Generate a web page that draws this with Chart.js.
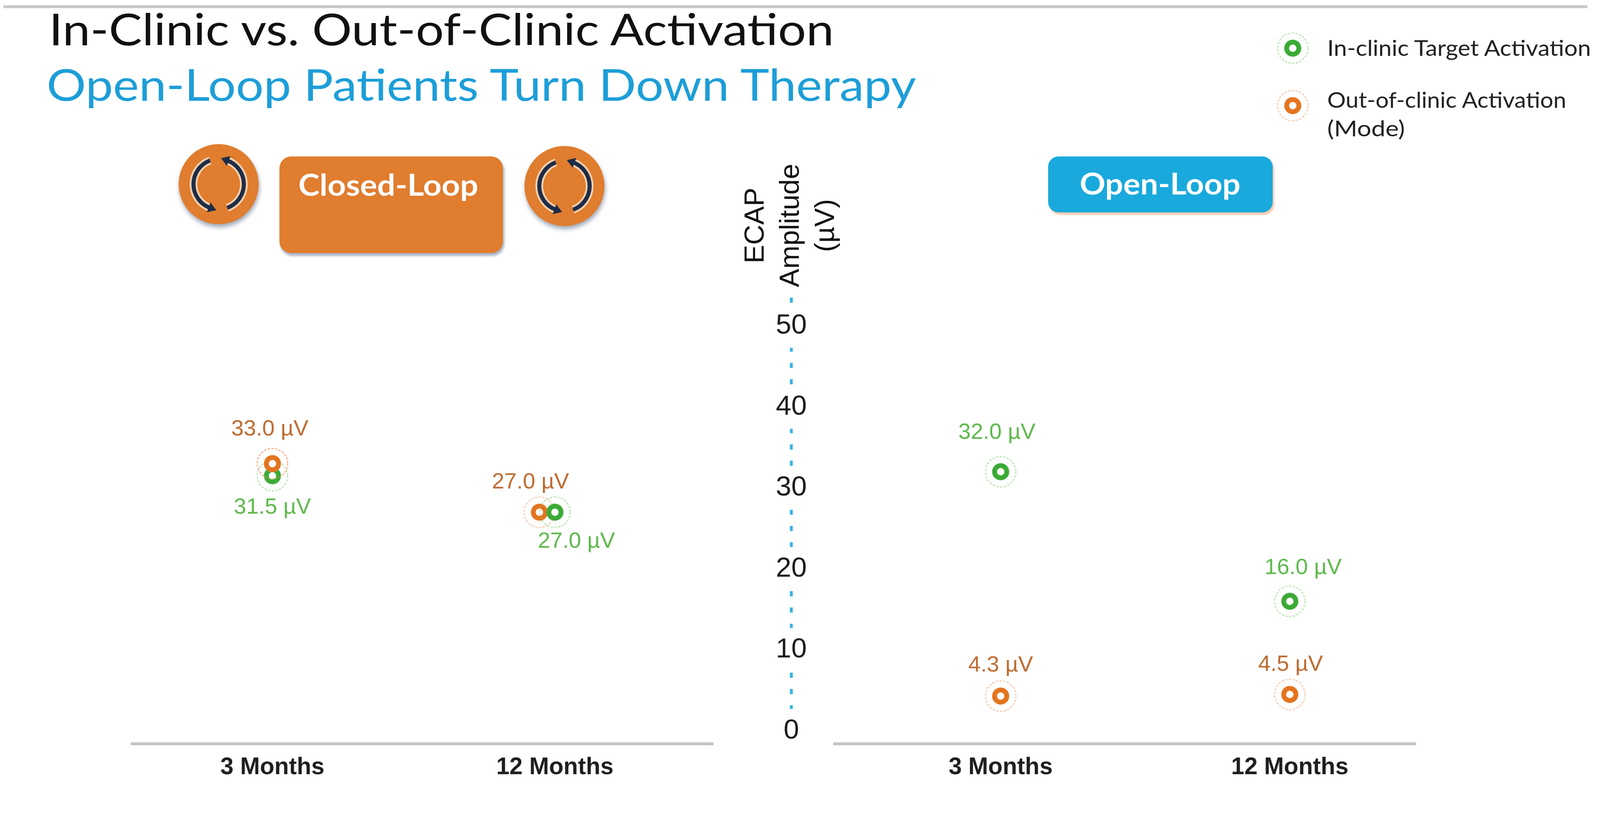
<!DOCTYPE html>
<html>
<head>
<meta charset="utf-8">
<script src="https://cdn.jsdelivr.net/npm/chart.js@4.4.1/dist/chart.umd.min.js"></script>
<style>
  html, body { margin: 0; padding: 0; background: #ffffff; overflow: hidden; }
  body { font-family: "Liberation Sans", Arial, sans-serif; }
  #stage { position: absolute; left: 0; top: 0; width: 4317px; height: 2107px; transform-origin: 0 0; overflow: hidden; background: #fff; }
  .abs { position: absolute; }
  .fit { white-space: nowrap; display: inline-block; transform-origin: 0 50%; }
  .lato { font-family: "Lato", "Noto Sans", sans-serif; font-weight: 400; }
  .latob { font-family: "Lato", "Noto Sans", sans-serif; font-weight: 700; }
  .icon { filter: drop-shadow(2px 8px 6px rgba(40, 60, 100, 0.45)); }
</style>
</head>
<body>
<div id="stage">
<div class="abs" style="left:9px;top:14px;width:4274px;height:8px;background:#c9c9c9"></div>

<div class="abs fit lato" data-w="2118" style="left:132px;top:18px;font-size:118px;line-height:118px;color:#111">In-Clinic vs. Out-of-Clinic Activation</div>
<div class="abs fit lato" data-w="2346" style="left:126px;top:168px;font-size:118px;line-height:118px;color:#1d9ed8">Open-Loop Patients Turn Down Therapy</div>

<!-- Closed-loop badge -->
<div class="abs icon" id="icon1" style="left:480px;top:387px;width:220px;height:220px"></div>
<div class="abs" style="left:754px;top:422px;width:603px;height:261px;border-radius:32px;background:#e07d2e;box-shadow:3px 7px 7px rgba(60,85,130,0.45)"></div>
<div class="abs fit latob" data-w="485" style="left:805px;top:456px;font-size:81px;line-height:81px;color:#fff">Closed-Loop</div>
<div class="abs icon" id="icon2" style="left:1413px;top:392px;width:220px;height:220px"></div>

<!-- Open-loop badge -->
<div class="abs" style="left:2828px;top:422px;width:606px;height:151px;border-radius:28px;background:#19a9dc;box-shadow:4px 6px 5px rgba(235,150,100,0.5)"></div>
<div class="abs fit latob" data-w="434" style="left:2913px;top:453px;font-size:81px;line-height:81px;color:#fff">Open-Loop</div>

<!-- Legend -->
<canvas class="abs" id="lg0" width="100" height="100" style="left:3438px;top:80px;width:100px;height:100px"></canvas>
<canvas class="abs" id="lg1" width="100" height="100" style="left:3438px;top:235px;width:100px;height:100px"></canvas>
<div class="abs fit lato" id="lgt0" data-w="712" style="left:3581px;top:99px;font-size:59px;line-height:59px;color:#222"></div>
<div class="abs fit lato" id="lgt1" data-w="645" style="left:3581px;top:239px;font-size:59px;line-height:59px;color:#222"></div>
<div class="abs fit lato" id="lgt2" data-w="210" style="left:3581px;top:316px;font-size:59px;line-height:59px;color:#222"></div>

<!-- Y axis title -->
<div class="abs" id="ytitle" style="left:1930px;top:466px;width:400px;height:285px;font-family:'Liberation Sans',Arial,sans-serif;font-size:75px;line-height:95px;text-align:center;color:#111;transform:rotate(-90deg)"></div>

<canvas class="abs" id="closedChart" width="2000" height="1407" style="left:0px;top:700px;width:2000px;height:1407px"></canvas>
<canvas class="abs" id="openChart" width="2317" height="1407" style="left:2000px;top:700px;width:2317px;height:1407px"></canvas>
</div>

<script>
// ---------------- DATA ----------------
const CATEGORIES = ['3 Months', '12 Months'];
const SERIES_NAMES = ['In-clinic Target Activation', 'Out-of-clinic Activation (Mode)'];
const CLOSED_IN_CLINIC = [31.5, 27.0];
const CLOSED_OUT_OF_CLINIC = [33.0, 27.0];
const OPEN_IN_CLINIC = [32.0, 16.0];
const OPEN_OUT_OF_CLINIC = [4.3, 4.5];
const Y_TICKS = [0, 10, 20, 30, 40, 50];
const Y_TITLE_LINES = ['ECAP', 'Amplitude', '(µV)'];
const UNIT = 'µV';

// ---------------- STYLE ----------------
const GREEN = '#3aaa35', GREEN_HALO = 'rgba(120,200,105,0.55)', GREEN_TXT = '#5cb84a';
const ORANGE = '#e5741e', ORANGE_HALO = 'rgba(240,160,110,0.6)', ORANGE_TXT = '#bd6a2f';
const CYAN = '#38b5e3';
const BASE = '#c4c4c4';
const FONT = '"Liberation Sans", Arial, sans-serif';
const Y_MIN = -1.6, Y_MAX = 53.5;
const CLOSED_OUT_DODGE = [0, -0.055];   // side-by-side offset for coincident markers

// fit the 4317x2107 design into the actual viewport
(function () {
  const s = Math.min(window.innerWidth / 4317, window.innerHeight / 2107);
  document.getElementById('stage').style.transform = 'scale(' + s + ')';
})();

Chart.defaults.font.family = FONT;

function drawRing(g, color, halo) {
  g.save();
  g.setLineDash([6, 4]);
  g.strokeStyle = halo; g.lineWidth = 3;
  g.beginPath(); g.arc(50, 50, 41, 0, Math.PI * 2); g.stroke();
  g.setLineDash([]);
  g.fillStyle = '#ffffff';
  g.beginPath(); g.arc(50, 50, 23, 0, Math.PI * 2); g.fill();
  g.strokeStyle = color; g.lineWidth = 13;
  g.beginPath(); g.arc(50, 50, 16.5, 0, Math.PI * 2); g.stroke();
  g.restore();
}
function ringImage(color, halo) {
  const c = document.createElement('canvas');
  c.width = 100; c.height = 100;
  drawRing(c.getContext('2d'), color, halo);
  return c;
}
const GREEN_RING = ringImage(GREEN, GREEN_HALO);
const ORANGE_RING = ringImage(ORANGE, ORANGE_HALO);

// legend
drawRing(document.getElementById('lg0').getContext('2d'), GREEN, GREEN_HALO);
drawRing(document.getElementById('lg1').getContext('2d'), ORANGE, ORANGE_HALO);
document.getElementById('lgt0').textContent = SERIES_NAMES[0];
document.getElementById('lgt1').textContent = 'Out-of-clinic Activation';
document.getElementById('lgt2').textContent = '(Mode)';
document.getElementById('ytitle').innerHTML = Y_TITLE_LINES.join('<br>');

// icons
function syncIcon() {
  const r = 68, cx = 110, cy = 110;
  const pt = (deg) => { const a = deg * Math.PI / 180; return [cx + r * Math.sin(a), cy - r * Math.cos(a)]; };
  const A = pt(-20), B = pt(-160), C = pt(160), D = pt(20);
  function head(P) {
    const px = P[0] - cx, py = P[1] - cy;
    const vx = py / r, vy = -px / r, nx = -vy, ny = vx;
    const tip = [P[0] + vx * 18, P[1] + vy * 18];
    const b1 = [P[0] - vx * 4 + nx * 14, P[1] - vy * 4 + ny * 14];
    const b2 = [P[0] - vx * 4 - nx * 14, P[1] - vy * 4 - ny * 14];
    return `${tip[0]},${tip[1]} ${b1[0]},${b1[1]} ${b2[0]},${b2[1]}`;
  }
  const arc1 = `M${A[0]} ${A[1]} A${r} ${r} 0 0 0 ${B[0]} ${B[1]}`;
  const arc2 = `M${C[0]} ${C[1]} A${r} ${r} 0 0 0 ${D[0]} ${D[1]}`;
  return `<svg width="220" height="220" viewBox="0 0 220 220">
    <circle cx="110" cy="110" r="108" fill="#e07d2e"/>
    <path d="${arc1}" stroke="#fff3e6" stroke-opacity="0.7" stroke-width="21" fill="none"/>
    <path d="${arc2}" stroke="#fff3e6" stroke-opacity="0.7" stroke-width="21" fill="none"/>
    <path d="${arc1}" stroke="#1f2d47" stroke-width="11" fill="none"/>
    <path d="${arc2}" stroke="#1f2d47" stroke-width="11" fill="none"/>
    <polygon points="${head(B)}" fill="#1f2d47"/>
    <polygon points="${head(D)}" fill="#1f2d47"/>
  </svg>`;
}
document.getElementById('icon1').innerHTML = syncIcon();
document.getElementById('icon2').innerHTML = syncIcon();

// fit html text widths (offsetWidth is unaffected by the stage transform)
document.querySelectorAll('[data-w]').forEach(el => {
  const w = el.offsetWidth;
  if (w > 0) el.style.transform = 'scaleX(' + (parseFloat(el.dataset.w) / w) + ')';
});

// ---------------- CHARTS ----------------
function points(values, dodge) {
  return values.map((v, i) => ({ x: i + (dodge ? dodge[i] : 0), y: v }));
}

const valueLabels = {
  id: 'valueLabels',
  afterDatasetsDraw(chart) {
    const ctx = chart.ctx;
    chart.data.datasets.forEach((ds, di) => {
      const meta = chart.getDatasetMeta(di);
      (ds.raise || []).forEach(i => meta.data[i].draw(ctx, chart.chartArea));
    });
    chart.data.datasets.forEach((ds, di) => {
      const meta = chart.getDatasetMeta(di);
      meta.data.forEach((el, i) => {
        const off = ds.labelOffsets[i];
        ctx.save();
        ctx.font = '60px ' + FONT;
        ctx.fillStyle = ds.labelColor;
        ctx.textAlign = 'center';
        ctx.textBaseline = 'middle';
        ctx.fillText(ds.data[i].y.toFixed(1) + ' ' + UNIT, el.x + off[0], el.y + off[1]);
        ctx.restore();
      });
    });
  }
};

const xTickFont = { family: FONT, size: 64, weight: 'bold' };

new Chart(document.getElementById('closedChart'), {
  type: 'scatter',
  data: {
    datasets: [
      { label: SERIES_NAMES[0], data: points(CLOSED_IN_CLINIC), pointStyle: GREEN_RING, pointRadius: 23,
        labelColor: GREEN_TXT, labelOffsets: [[0, 86], [58, 79]], clip: false },
      { label: SERIES_NAMES[1], data: points(CLOSED_OUT_OF_CLINIC, CLOSED_OUT_DODGE), pointStyle: ORANGE_RING, pointRadius: 23,
        labelColor: ORANGE_TXT, labelOffsets: [[-7, -92], [-24, -81]], raise: [0], clip: false }
    ]
  },
  options: {
    responsive: false, animation: false, devicePixelRatio: 1, events: [],
    layout: { padding: { left: 357, right: 76, top: 103, bottom: 0 } },
    plugins: { legend: { display: false }, tooltip: { enabled: false } },
    scales: {
      x: {
        type: 'linear', min: -0.496, max: 1.56,
        afterBuildTicks: s => { s.ticks = CATEGORIES.map((_, i) => ({ value: i })); },
        afterFit: s => { s.height = 100; },
        grid: { display: false, drawTicks: false },
        border: { display: true, color: BASE, width: 8 },
        ticks: { autoSkip: false, maxRotation: 0, padding: 26, color: '#1e1e1e', font: xTickFont,
                 callback: v => CATEGORIES[v] ?? '' }
      },
      y: { display: false, min: Y_MIN, max: Y_MAX }
    }
  },
  plugins: [valueLabels]
});

new Chart(document.getElementById('openChart'), {
  type: 'scatter',
  data: {
    datasets: [
      { label: SERIES_NAMES[0], data: points(OPEN_IN_CLINIC), pointStyle: GREEN_RING, pointRadius: 23,
        labelColor: GREEN_TXT, labelOffsets: [[-10, -105], [36, -90]], clip: false },
      { label: SERIES_NAMES[1], data: points(OPEN_OUT_OF_CLINIC), pointStyle: ORANGE_RING, pointRadius: 23,
        labelColor: ORANGE_TXT, labelOffsets: [[0, -83], [2, -80]], clip: false }
    ]
  },
  options: {
    responsive: false, animation: false, devicePixelRatio: 1, events: [],
    layout: { padding: { left: 0, right: 496, top: 103, bottom: 0 } },
    plugins: { legend: { display: false }, tooltip: { enabled: false } },
    scales: {
      x: {
        type: 'linear', min: -0.724, max: 1.437,
        afterBuildTicks: s => { s.ticks = [{ value: s.min }].concat(CATEGORIES.map((_, i) => ({ value: i }))); },
        afterFit: s => { s.height = 100; },
        grid: { display: true, drawTicks: false, lineWidth: 8,
                color: c => c.index === 0 ? CYAN : 'rgba(0,0,0,0)' },
        border: { display: false, dash: [14, 30] },
        ticks: { autoSkip: false, maxRotation: 0, padding: 26, color: '#1e1e1e', font: xTickFont,
                 callback: v => CATEGORIES[v] ?? '' }
      },
      y: {
        position: 'left', min: Y_MIN, max: Y_MAX,
        afterBuildTicks: s => { s.ticks = [{ value: s.min }].concat(Y_TICKS.map(v => ({ value: v }))); },
        afterFit: s => { s.width = 135; },
        grid: { display: true, drawTicks: false, lineWidth: 8,
                color: c => c.index === 0 ? BASE : 'rgba(0,0,0,0)' },
        border: { display: false, dash: [0, 113, 5000, 0] },
        ticks: { mirror: true, crossAlign: 'center', padding: -41.7, color: '#1a1a1a', font: { family: FONT, size: 75 },
                 showLabelBackdrop: c => c.index > 0, backdropColor: '#ffffff', backdropPadding: { x: 6, y: 14 },
                 callback: (v, i) => i === 0 ? '' : String(v) }
      }
    }
  },
  plugins: [valueLabels]
});
</script>
</body>
</html>
